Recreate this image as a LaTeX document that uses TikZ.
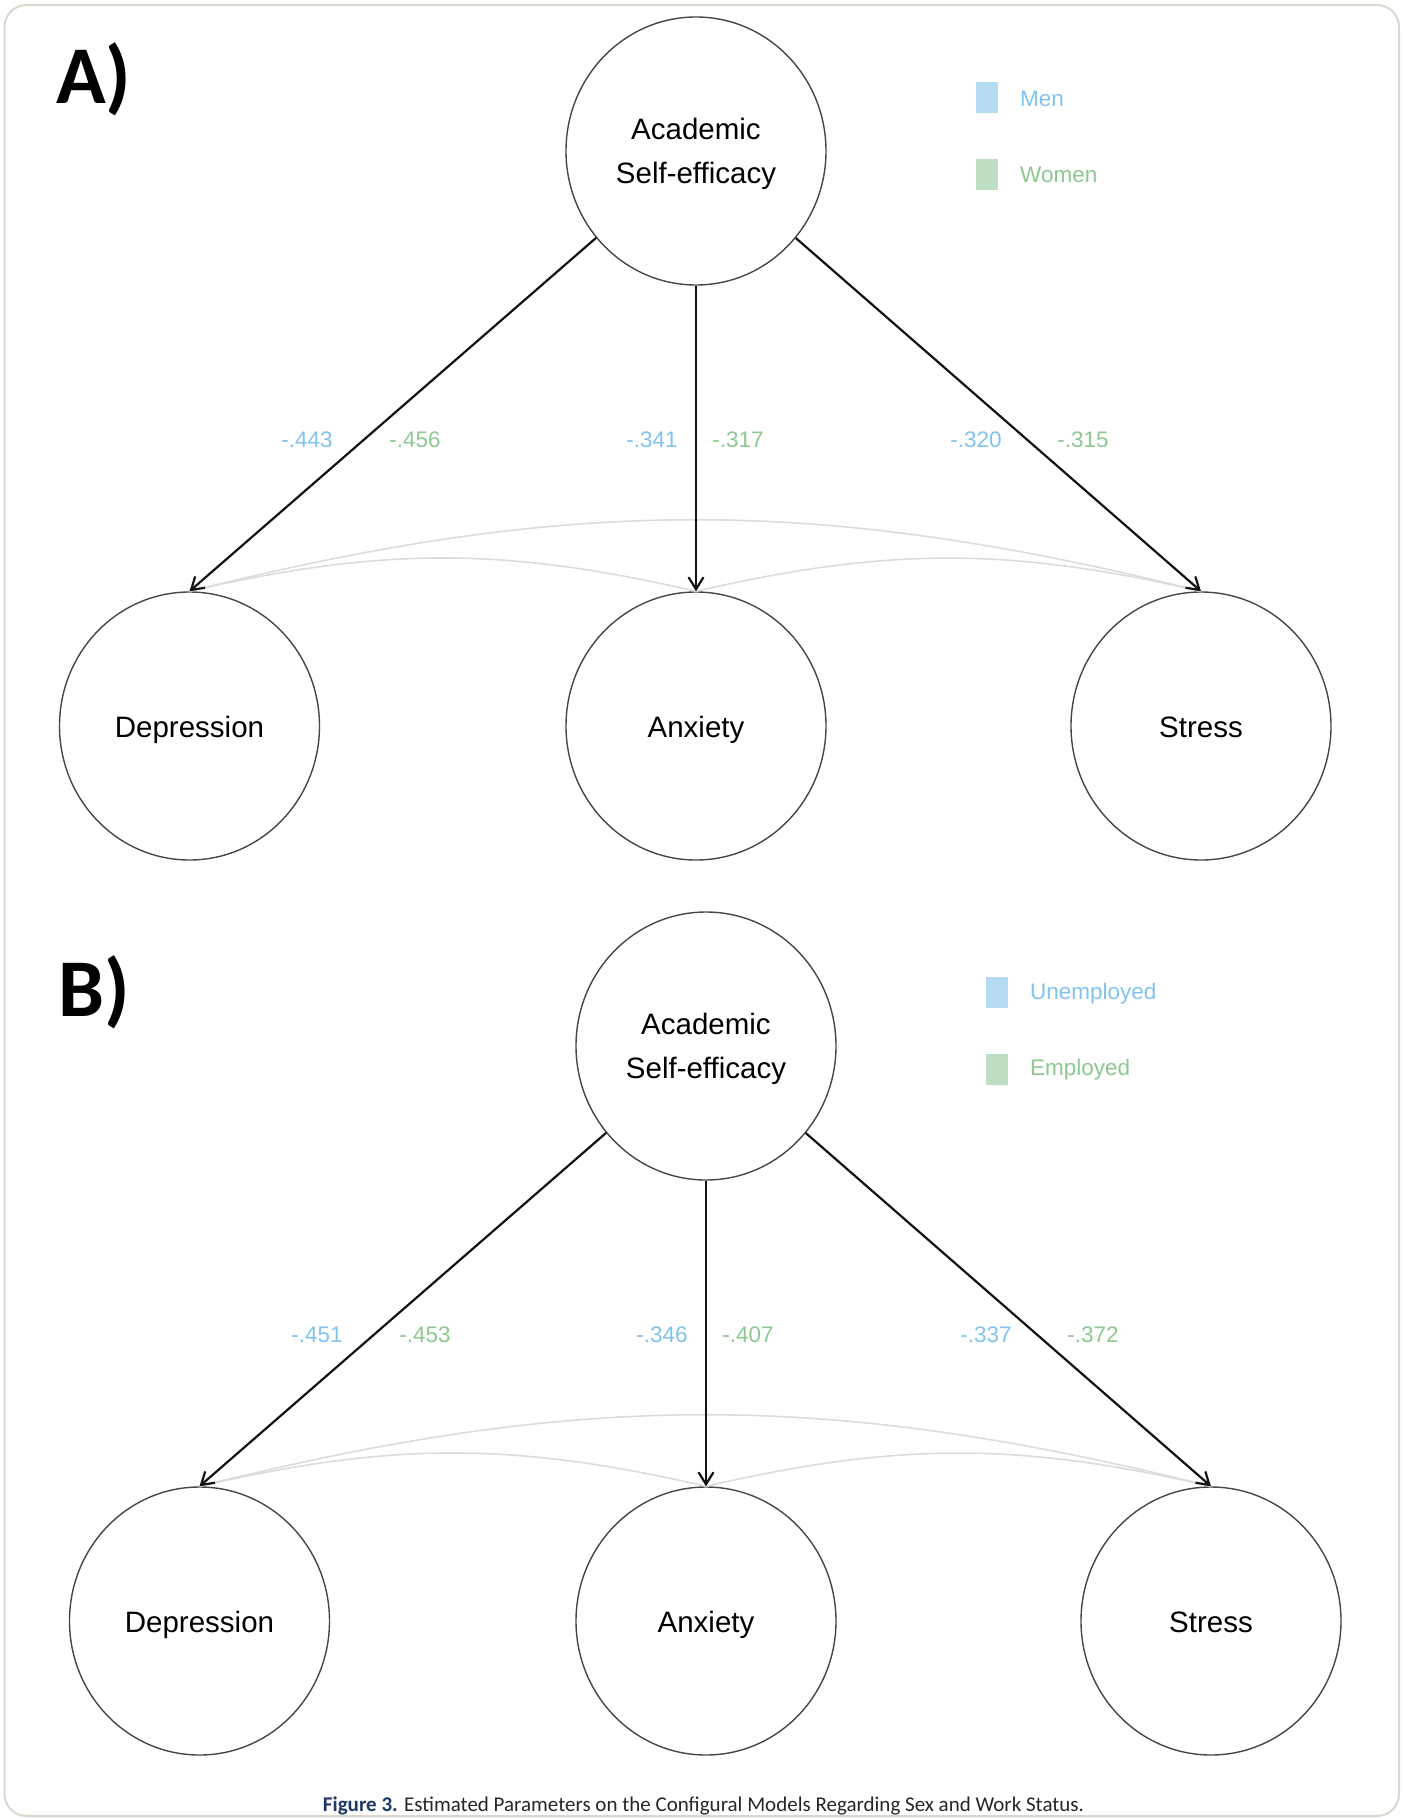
\documentclass[tikz,border=0pt]{standalone}
\usepackage{fontspec}
\setmainfont{Liberation Sans}
\newfontfamily\capfont{Carlito}
\usetikzlibrary{shapes.geometric,arrows.meta}
\definecolor{menblue}{RGB}{130,195,238}
\definecolor{menbox}{RGB}{181,219,243}
\definecolor{womgreen}{RGB}{140,200,145}
\definecolor{wombox}{RGB}{190,222,196}
\definecolor{framecol}{RGB}{218,216,205}
\definecolor{capnavy}{RGB}{31,56,100}
\definecolor{covgray}{RGB}{220,220,220}
\definecolor{circgray}{RGB}{70,70,70}
\begin{document}
\begin{tikzpicture}[x=1pt,y=-1pt,
  latent/.style={ellipse, draw=circgray, line width=1.4pt, minimum width=260pt, minimum height=268pt, inner sep=0pt, align=center, font=\fontsize{29.5}{44}\selectfont},
  latone/.style={latent, text height=22pt, text depth=0pt},
  lattwo/.style={latent, text depth=0pt},
  arr/.style={draw=black!93, line width=2.2pt, -{Straight Barb[length=12pt,width=15pt]}},
  cov/.style={draw=covgray, line width=1.6pt},
  blab/.style={text=menblue, font=\fontsize{22.5}{27}\selectfont, inner sep=0pt},
  glab/.style={text=womgreen, font=\fontsize{22.5}{27}\selectfont, inner sep=0pt},
  legtxt/.style={anchor=west, inner sep=0pt, font=\fontsize{22.5}{27}\selectfont},
  panellab/.style={font=\capfont\bfseries\fontsize{82}{90}\selectfont, anchor=base west, inner sep=0pt},
  legbox/.style={minimum width=22pt, minimum height=31pt, inner sep=0pt},
]
\useasboundingbox (0,0) rectangle (1403,1818);
\draw[framecol, line width=2pt, rounded corners=22pt] (4.5,5) rectangle (1399,1816);

% ---------- Panel A ----------
\node[panellab] (labA) at (56,103) {A)};
\node[lattwo] (aASE) at (696,151) {Academic\\Self-efficacy};
\node[latone] (aDep) at (189.5,726) {Depression};
\node[latone] (aAnx) at (696,726) {Anxiety};
\node[latone] (aStr) at (1201,726) {Stress};
\draw[cov] (aDep.north) to[bend left=13] (aAnx.north);
\draw[cov] (aAnx.north) to[bend left=13] (aStr.north);
\draw[cov] (aDep.north) to[bend left=14] (aStr.north);
\draw[arr] (aASE) -- (aDep.north);
\draw[arr] (aASE) -- (aAnx.north);
\draw[arr] (aASE) -- (aStr.north);
\node[blab] (a1) at (307,440) {-.443};
\node[glab] (a2) at (415,440) {-.456};
\node[blab] (a3) at (652,440) {-.341};
\node[glab] (a4) at (738,440) {-.317};
\node[blab] (a5) at (976,440) {-.320};
\node[glab] (a6) at (1083,440) {-.315};
\node[legbox, fill=menbox] (aLb1) at (987,97.5) {};
\node[legtxt, text=menblue] (aLt1) at (1020,99) {Men};
\node[legbox, fill=wombox] (aLb2) at (987,174) {};
\node[legtxt, text=womgreen] (aLt2) at (1020,175) {Women};

% ---------- Panel B ----------
\node[panellab] (labB) at (58,1016) {B)};
\node[lattwo] (bASE) at (706,1046) {Academic\\Self-efficacy};
\node[latone] (bDep) at (199.5,1621) {Depression};
\node[latone] (bAnx) at (706,1621) {Anxiety};
\node[latone] (bStr) at (1211,1621) {Stress};
\draw[cov] (bDep.north) to[bend left=13] (bAnx.north);
\draw[cov] (bAnx.north) to[bend left=13] (bStr.north);
\draw[cov] (bDep.north) to[bend left=14] (bStr.north);
\draw[arr] (bASE) -- (bDep.north);
\draw[arr] (bASE) -- (bAnx.north);
\draw[arr] (bASE) -- (bStr.north);
\node[blab] (b1) at (317,1335) {-.451};
\node[glab] (b2) at (425,1335) {-.453};
\node[blab] (b3) at (662,1335) {-.346};
\node[glab] (b4) at (748,1335) {-.407};
\node[blab] (b5) at (986,1335) {-.337};
\node[glab] (b6) at (1093,1335) {-.372};
\node[legbox, fill=menbox] (bLb1) at (997,992.5) {};
\node[legtxt, text=menblue] (bLt1) at (1030,994) {Unemployed};
\node[legbox, fill=wombox] (bLb2) at (997,1069) {};
\node[legtxt, text=womgreen] (bLt2) at (1030,1070) {Employed};

% ---------- Caption ----------
\node[anchor=base, inner sep=0pt, font=\capfont\fontsize{21}{24}\selectfont, text=black!85] (cap) at (703.5,1811)
  {{\bfseries\color{capnavy}Figure 3.} Estimated Parameters on the Configural Models Regarding Sex and Work Status.};
\end{tikzpicture}
\end{document}
